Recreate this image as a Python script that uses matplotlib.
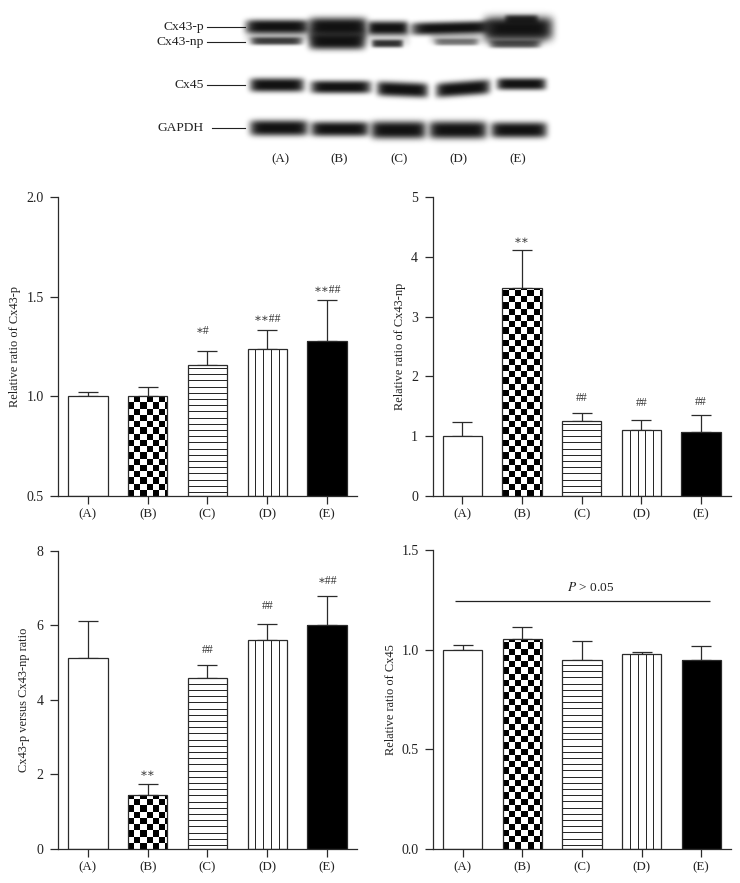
import numpy as np
import matplotlib
matplotlib.use("Agg")
import matplotlib.pyplot as plt

plt.rcParams['font.family'] = ['Liberation Serif', 'DejaVu Serif']
plt.rcParams['font.size'] = 9.4

W, H = 740, 883
INK = '#2b2b2b'
GROUPS = ['(A)', '(B)', '(C)', '(D)', '(E)']

# panel values
cx43p_vals = [1.0, 1.0, 1.155, 1.237, 1.277]
cx43p_tops = [1.02, 1.045, 1.226, 1.334, 1.484]
cx43p_marks = ['', '', '∗#', '∗∗##', '∗∗##']
cx43p_mark_y = [0, 0, 1.33, 1.387, 1.531]

cx43np_vals = [1.0, 3.48, 1.25, 1.10, 1.07]
cx43np_tops = [1.23, 4.12, 1.39, 1.27, 1.35]
cx43np_marks = ['', '∗∗', '##', '##', '##']
cx43np_mark_y = [0, 4.26, 1.64, 1.555, 1.566]

ratio_vals = [5.11, 1.44, 4.57, 5.60, 5.99]
ratio_tops = [6.12, 1.75, 4.92, 6.04, 6.79]
ratio_marks = ['', '∗∗', '##', '##', '∗##']
ratio_mark_y = [0, 2.01, 5.32, 6.51, 7.17]

cx45_vals = [1.0, 1.054, 0.946, 0.977, 0.948]
cx45_tops = [1.025, 1.112, 1.042, 0.987, 1.02]

# blot bands: x start, x end, y centre, thickness, darkness, tilt
bands = [
    (246, 309, 26.5, 14, 1.00, 0), (309, 367, 27, 19, 1.00, 0),
    (368, 408, 28, 14, 1.00, 0), (411, 492, 28, 13, 1.00, -1),
    (484, 553, 28.5, 24, 1.00, 0), (505, 538, 20, 10, 0.9, 0),
    (251, 302, 41, 8, 0.8, 0), (309, 365, 41, 17, 1.00, 0),
    (372, 403, 43.5, 8, 0.85, 0), (435, 478, 42, 7, 0.5, 0),
    (490, 540, 44, 8, 0.7, 0),
    (250, 304, 85, 14, 1.00, 0), (311, 371, 87, 13, 1.00, 0),
    (377, 428, 89.5, 15, 1.00, 1), (436, 490, 88.5, 15, 1.00, -2),
    (497, 546, 84, 12, 1.00, 0),
    (250, 308, 128, 16, 1.00, 0), (311, 369, 129, 15, 1.00, 0),
    (371, 426, 130, 18, 1.00, 0), (429, 487, 130, 18, 1.00, 0),
    (491, 547, 130, 16, 1.00, 0),
]
smears = [
    (246, 310, 34, 16, 0.25, 0), (310, 366, 34, 24, 0.4, 0),
    (366, 410, 38, 16, 0.15, 0), (430, 482, 38, 12, 0.25, 0),
    (484, 545, 38, 14, 0.3, 0),
]
blot_labels = ['Cx43-p', 'Cx43-np', 'Cx45', 'GAPDH']
blot_label_y = [27, 42, 85, 128]
blot_line_x0 = [207, 207, 207, 212]
blot_lane_x = [280, 339, 399, 458, 518]

fig = plt.figure(figsize=(W / 100, H / 100), dpi=100, facecolor='white')


def make_rect(x0, x1, ytop, ybot):
    return [x0 / W, 1 - ybot / H, (x1 - x0) / W, (ybot - ytop) / H]


# western blot and its labels, in pixel coordinates
back = fig.add_axes([0, 0, 1, 1], zorder=0)
back.set_xlim(0, W)
back.set_ylim(H, 0)
back.axis('off')

xx, yy = np.meshgrid(np.arange(240, 562) + 0.5, np.arange(4, 150) + 0.5)
ink = np.zeros_like(xx)
for x0, x1, yc, thick, dark, tilt in smears + bands:
    xm, half = (x0 + x1) / 2, (x1 - x0) / 2
    centre = yc + tilt * (xx - xm) / half
    blob = np.exp(-np.abs((xx - xm) / half) ** 8 - np.abs((yy - centre) / (thick / 2)) ** 3)
    ink = 1 - (1 - ink) * (1 - dark * blob)
back.imshow(1.0 - 0.93 * ink, cmap='gray', vmin=0, vmax=1, extent=(240, 562, 150, 4),
            aspect='auto', interpolation='bilinear')
back.set_xlim(0, W)
back.set_ylim(H, 0)

for name, y, x0 in zip(blot_labels, blot_label_y, blot_line_x0):
    back.text(204, y, name, ha='right', va='center', fontsize=9.7, color='#222222')
    back.plot([x0, 245], [y, y], color='#222222', lw=0.8, zorder=3)
for name, x in zip(GROUPS, blot_lane_x):
    back.text(x, 159, name, ha='center', va='center', color='#222222')


def draw_panel(rect, ylim, yticks, yfmt, ylabel, label_x, vals, tops, marks=None, mark_y=None):
    x0, x1, ytop, ybot = rect
    ax = fig.add_axes(make_rect(x0, x1, ytop, ybot), zorder=1)
    ax.patch.set_alpha(0)
    ax.set_xlim(-0.5, 4.5)
    ax.set_ylim(*ylim)
    px_x = 5 / (x1 - x0)
    px_y = (ylim[1] - ylim[0]) / (ybot - ytop)
    width = 0.66
    x = np.arange(5)

    ax.errorbar(x, vals, yerr=[np.zeros(5), np.array(tops) - np.array(vals)], fmt='none',
                ecolor=INK, elinewidth=0.9, capsize=7.2, capthick=0.9, zorder=1)
    fills = ax.bar(x, np.array(vals) - ylim[0], width, bottom=ylim[0], color='white', zorder=2)

    # (B) checkerboard
    cell = 6.25
    xe = 1 - width / 2 + np.arange(8) * cell * px_x
    ye = ylim[0] + np.arange(int((vals[1] - ylim[0]) / px_y / cell) + 2) * cell * px_y
    grid = (np.add.outer(np.arange(len(ye) - 1), np.arange(len(xe) - 1)) % 2).astype(float)
    mesh = ax.pcolormesh(xe, ye, grid, cmap='gray', vmin=0, vmax=1, zorder=3)
    mesh.set_clip_path(fills[1])

    # (C) horizontal stripes
    ys = np.arange(ylim[0] + 4 * px_y, vals[2], 6.2 * px_y)
    ax.hlines(ys, 2 - width / 2, 2 + width / 2, color='#222222', lw=0.7, zorder=3)

    # (D) vertical stripes
    xs = 3 - width / 2 + np.arange(1, 5) * width / 5
    ax.vlines(xs, ylim[0], vals[3], color='#222222', lw=0.7, zorder=3)

    # (E) solid
    fills[4].set_facecolor('black')

    ax.bar(x, np.array(vals) - ylim[0], width, bottom=ylim[0], facecolor='none',
           edgecolor=INK, linewidth=0.9, zorder=4)

    for side in ['top', 'right']:
        ax.spines[side].set_visible(False)
    for side in ['left', 'bottom']:
        ax.spines[side].set_color(INK)
        ax.spines[side].set_linewidth(0.9)
    ax.set_xticks(x, GROUPS)
    ax.set_yticks(yticks, [yfmt % t for t in yticks])
    ax.tick_params(length=5.8, width=0.9, color=INK, labelcolor='#222222', pad=3)
    ax.tick_params(axis='y', pad=4.5, labelsize=10)
    ax.set_ylabel(ylabel, fontsize=8.9, color='#222222')
    # rotated label anchors on its right edge, so shift by about half its height
    ax.yaxis.set_label_coords((label_x + 6.5 - x0) / (x1 - x0), 0.5)

    if marks:
        for i, (m, my) in enumerate(zip(marks, mark_y)):
            if m:
                ax.text(i - 0.08 if m == '∗#' else i, my, m, ha='center', va='center',
                        fontsize=8.4, color='#333333', zorder=5)
    return ax


draw_panel((58, 357, 197, 496), (0.5, 2.0), [0.5, 1.0, 1.5, 2.0], '%.1f',
           'Relative ratio of Cx43-p', 14, cx43p_vals, cx43p_tops, cx43p_marks, cx43p_mark_y)
draw_panel((432.5, 731, 197, 496), (0, 5), [0, 1, 2, 3, 4, 5], '%d',
           'Relative ratio of Cx43-np', 399, cx43np_vals, cx43np_tops, cx43np_marks, cx43np_mark_y)
draw_panel((58, 357, 550.5, 849), (0, 8), [0, 2, 4, 6, 8], '%d',
           'Cx43-p versus Cx43-np ratio', 23, ratio_vals, ratio_tops, ratio_marks, ratio_mark_y)
ax4 = draw_panel((433, 731, 550, 848.7), (0, 1.5), [0, 0.5, 1.0, 1.5], '%.1f',
                 'Relative ratio of Cx45', 390, cx45_vals, cx45_tops)

ax4.hlines(1.243, -0.134, 4.15, color='#222222', lw=0.9, zorder=5)
ax4.text(2.14, 1.313, r'$\mathit{P}$ > 0.05', ha='center', va='center', color='#222222',
         math_fontfamily='stix', fontsize=9.6)

fig.savefig('out.png', dpi=100, facecolor='white')
